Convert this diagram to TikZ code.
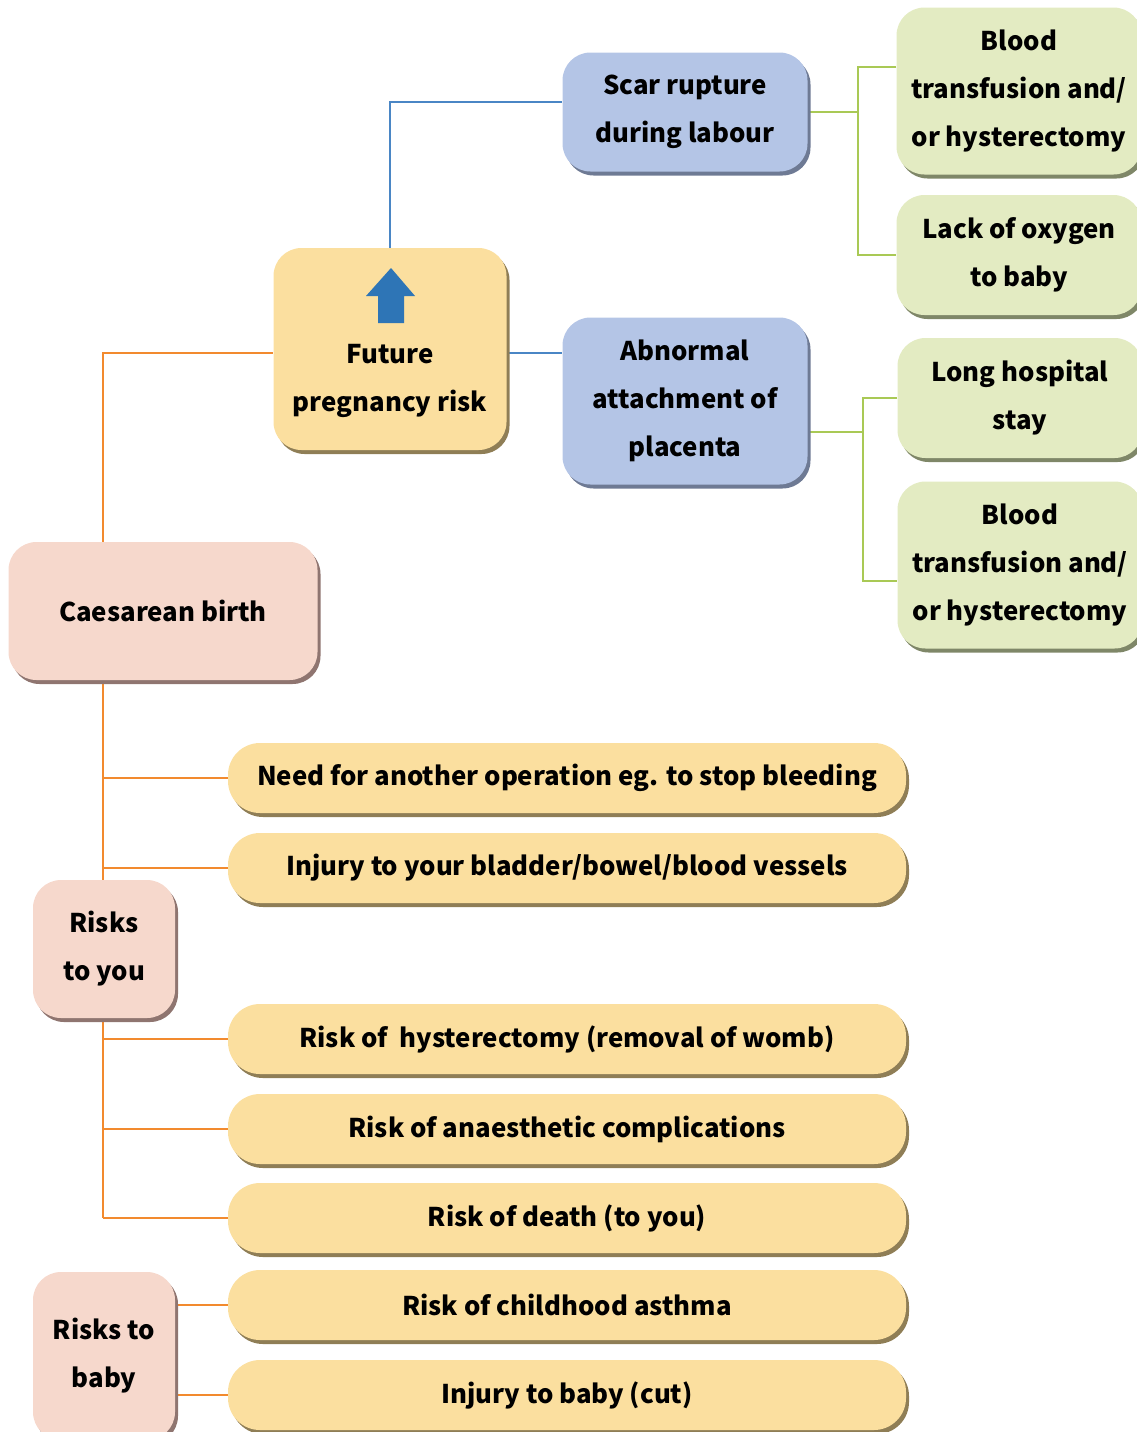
\documentclass[tikz,border=0pt]{standalone}
\usepackage{fontspec}
\setmainfont{Noto Sans CJK KR}
\usetikzlibrary{shadows, backgrounds}

\definecolor{pinkfill}{HTML}{F6D8CC}
\definecolor{pinkshade}{HTML}{8F7570}
\definecolor{yellowfill}{HTML}{FBDF9F}
\definecolor{yellowshade}{HTML}{8F7E56}
\definecolor{bluefill}{HTML}{B4C5E6}
\definecolor{blueshade}{HTML}{6E7A94}
\definecolor{greenfill}{HTML}{E3EBC2}
\definecolor{greenshade}{HTML}{7F8768}
\definecolor{orangeline}{HTML}{F28A2E}
\definecolor{blueline}{HTML}{4A86C5}
\definecolor{greenline}{HTML}{A9C955}
\definecolor{arrowblue}{HTML}{2E75B6}

\tikzset{
  box/.style={rounded corners=28pt, align=center, inner sep=0pt,
    font=\fontsize{25.8}{48}\selectfont\bfseries},
  pinkbox/.style={box, fill=pinkfill,
    drop shadow={shadow xshift=3pt, shadow yshift=-4pt, fill=pinkshade, opacity=1}},
  yellowbox/.style={box, fill=yellowfill,
    drop shadow={shadow xshift=3pt, shadow yshift=-4pt, fill=yellowshade, opacity=1}},
  riskbar/.style={yellowbox, rounded corners=32pt, minimum width=678pt, minimum height=70pt},
  bluebox/.style={box, fill=bluefill, minimum width=245pt,
    drop shadow={shadow xshift=3pt, shadow yshift=-4pt, fill=blueshade, opacity=1}},
  greenbox/.style={box, fill=greenfill, minimum width=245pt,
    drop shadow={shadow xshift=3pt, shadow yshift=-4pt, fill=greenshade, opacity=1}},
  link/.style={line width=1.2pt},
}

\begin{document}
\begin{tikzpicture}[x=1pt, y=-1pt]
  \useasboundingbox (0,0) rectangle (1137,1432);

  % main boxes
  \node[pinkbox, minimum width=309pt, minimum height=138pt] (cb) at (163,611) {Caesarean birth};
  \node[yellowbox, minimum width=233pt, minimum height=202pt] (fp) at (390,349) {};
  \node[font=\fontsize{25.8}{48}\selectfont\bfseries, align=center] (fptext) at (390,381) {Future\\pregnancy risk};
  \fill[arrowblue] (391,268) -- (415,296) -- (404,296) -- (404,323) -- (378,323) -- (378,296) -- (366,296) -- cycle;

  % future pregnancy branch
  \node[bluebox, minimum height=119pt] (scar) at (685,112) {Scar rupture\\during labour};
  \node[bluebox, minimum height=167pt] (ab) at (685,401) {Abnormal\\attachment of\\placenta};
  \node[greenbox, minimum height=167pt] (bt1) at (1019,91) {Blood\\transfusion and/\\or hysterectomy};
  \node[greenbox, minimum height=120pt] (lack) at (1019,255) {Lack of oxygen\\to baby};
  \node[greenbox, minimum height=120pt] (lhs) at (1020,398) {Long hospital\\stay};
  \node[greenbox, minimum height=167pt] (bt2) at (1020,565) {Blood\\transfusion and/\\or hysterectomy};

  % risks to you
  \node[pinkbox, minimum width=142pt, minimum height=138pt] (ry) at (104,949) {Risks\\to you};
  \node[riskbar] (need) at (567,778) {Need for another operation eg. to stop bleeding};
  \node[riskbar] (inj) at (567,868) {Injury to your bladder/bowel/blood vessels};
  \node[riskbar] (hyst) at (567,1039) {Risk of~ hysterectomy (removal of womb)};
  \node[riskbar] (anae) at (567,1129) {Risk of anaesthetic complications};
  \node[riskbar] (death) at (567,1218) {Risk of death (to you)};

  % risks to baby
  \node[pinkbox, minimum width=142pt, minimum height=168pt] (rb) at (104,1356) {Risks to\\baby};
  \node[riskbar] (asthma) at (567,1305) {Risk of childhood asthma};
  \node[riskbar] (cut) at (567,1395) {Injury to baby (cut)};

  \coordinate (trunk) at (103,0);
  \coordinate (gx1) at (858,0);
  \coordinate (gx2) at (863,0);
  \coordinate (fpin) at ([yshift=-4pt]fp.west);
  \coordinate (fpout) at ([yshift=-4pt]fp.east);
  \coordinate (scarin) at ([yshift=10pt]scar.west);
  \coordinate (bt1in) at ([yshift=24pt]bt1.west);
  \coordinate (about) at ([yshift=-31pt]ab.east);
  \coordinate (bt2in) at ([yshift=-16pt]bt2.west);

  \begin{scope}[on background layer]
    % orange links
    \draw[link, orangeline] (trunk |- cb.north) |- (fpin);
    \draw[link, orangeline] (trunk |- cb.south) -- (trunk |- death.west);
    \foreach \n in {need, inj, hyst, anae, death}
      \draw[link, orangeline] (trunk |- \n.west) -- (\n.west);
    \draw[link, orangeline] (rb.east |- asthma.west) -- (asthma.west);
    \draw[link, orangeline] (rb.east |- cut.west) -- (cut.west);
    % blue links
    \draw[link, blueline] (fp.north) |- (scarin);
    \draw[link, blueline] (fpout) -- (fpout -| ab.west);
    % green links
    \draw[link, greenline] (scar.east) -- (gx1 |- scar.east);
    \draw[link, greenline] (bt1in) -| (gx1 |- lack.west) -- (lack.west);
    \draw[link, greenline] (about) -- (gx2 |- about);
    \draw[link, greenline] (lhs.west) -| (gx2 |- bt2in) -- (bt2in);
  \end{scope}
\end{tikzpicture}
\end{document}
